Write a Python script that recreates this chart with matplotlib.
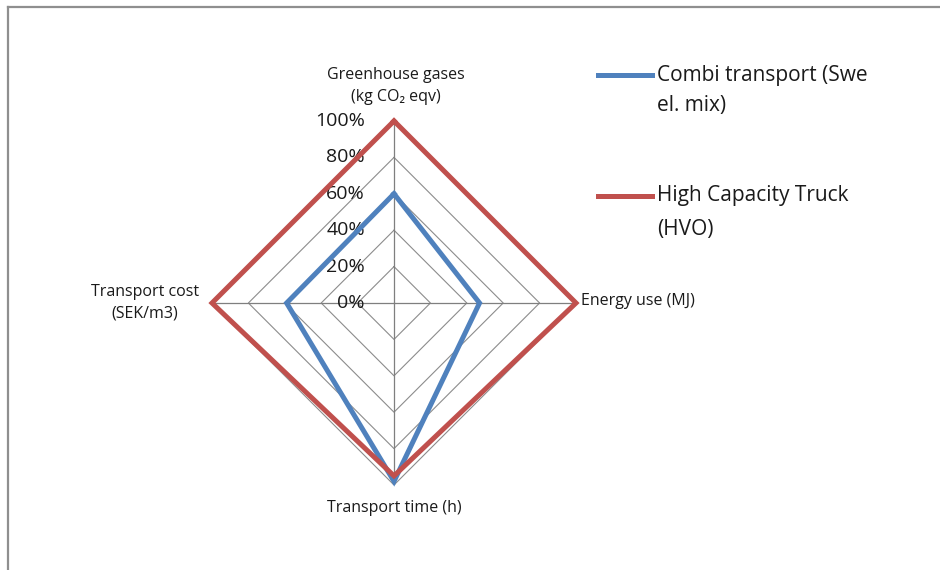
import numpy as np
import matplotlib
matplotlib.use("Agg")
import matplotlib.pyplot as plt
from matplotlib.lines import Line2D

plt.rcParams["font.family"] = ["Open Sans", "DejaVu Sans"]

# Radar chart data (share of the worst option, 0..1)
categories = ["Greenhouse gases\n(kg CO\u2082 eqv)", "Energy use (MJ)",
              "Transport time (h)", "Transport cost\n(SEK/m3)"]
combi = [0.60, 0.47, 0.98, 0.59]
hct = [1.00, 1.00, 0.95, 1.00]
ring_levels = [0.2, 0.4, 0.6, 0.8, 1.0]
ring_labels = ["0%", "20%", "40%", "60%", "80%", "100%"]
series_names = ["Combi transport (Swe\nel. mix)", "High Capacity Truck\n(HVO)"]

BLUE = "#4f81bd"
RED = "#c0504d"
GRID = "#8c8c8c"
TXT = "#1a1a1a"

W, H = 940, 570
fig = plt.figure(figsize=(W / 100, H / 100), dpi=100)


def fx(px):
    return px / W


def fy(py):
    return 1 - py / H


# chart area border (runs off the right and bottom edges)
fig.add_artist(Line2D([fx(8), fx(8)], [0, fy(7)], transform=fig.transFigure,
                      color="#8f8f8f", lw=1.6))
fig.add_artist(Line2D([fx(8), 1], [fy(7), fy(7)], transform=fig.transFigure,
                      color="#8f8f8f", lw=1.6))

# plot area: centre at (394, 303) px, radius 182 px
cx, cy, R = 394, 303, 182
ax = fig.add_axes([fx(cx - R), fy(cy + R), 2 * R / W, 2 * R / H])
ax.set_xlim(-1, 1)
ax.set_ylim(-1, 1)
ax.axis("off")

# clockwise from the top
angles = np.pi / 2 - np.arange(len(categories)) * 2 * np.pi / len(categories)


def to_xy(vals):
    vals = np.asarray(vals + vals[:1], dtype=float)
    ang = np.append(angles, angles[0])
    return vals * np.cos(ang), vals * np.sin(ang)


# grid rings and spokes
for lvl in ring_levels:
    x, y = to_xy([lvl] * len(categories))
    ax.plot(x, y, color=GRID, lw=0.8, zorder=1)
for a in angles:
    ax.plot([0, np.cos(a)], [0, np.sin(a)], color="#7f7f7f", lw=0.9, zorder=1)

# radial tick labels along the top spoke
for i, lab in enumerate(ring_labels):
    ax.text(-0.16, i * 0.2, lab, ha="right", va="center", fontsize=14,
            color=TXT)

# series
colors = [BLUE, RED]
for vals, col in zip([combi, hct], colors):
    x, y = to_xy(vals)
    ax.plot(x, y, color=col, lw=3.6, solid_joinstyle="miter", zorder=3,
            clip_on=False)

# category labels
lab_kw = dict(fontsize=11.5, color=TXT, linespacing=1.45)
ax.text(0.01, 1.09, categories[0], ha="center", va="bottom", **lab_kw)
ax.text(1.03, 0.01, categories[1], ha="left", va="center", **lab_kw)
ax.text(0.0, -1.08, categories[2], ha="center", va="top", **lab_kw)
ax.text(-1.37, 0.0, categories[3], ha="center", va="center", **lab_kw)

# legend: handle level with the first text line
legend_rows = [(75, 31), (196, 33)]
for name, col, (y0, step) in zip(series_names, colors, legend_rows):
    fig.add_artist(Line2D([fx(598), fx(652)], [fy(y0), fy(y0)],
                          transform=fig.transFigure, color=col, lw=3.6))
    for k, part in enumerate(name.split("\n")):
        fig.text(fx(657), fy(y0 + k * step), part, ha="left", va="center",
                 fontsize=15, color=TXT)

fig.savefig("out.png", dpi=100)
